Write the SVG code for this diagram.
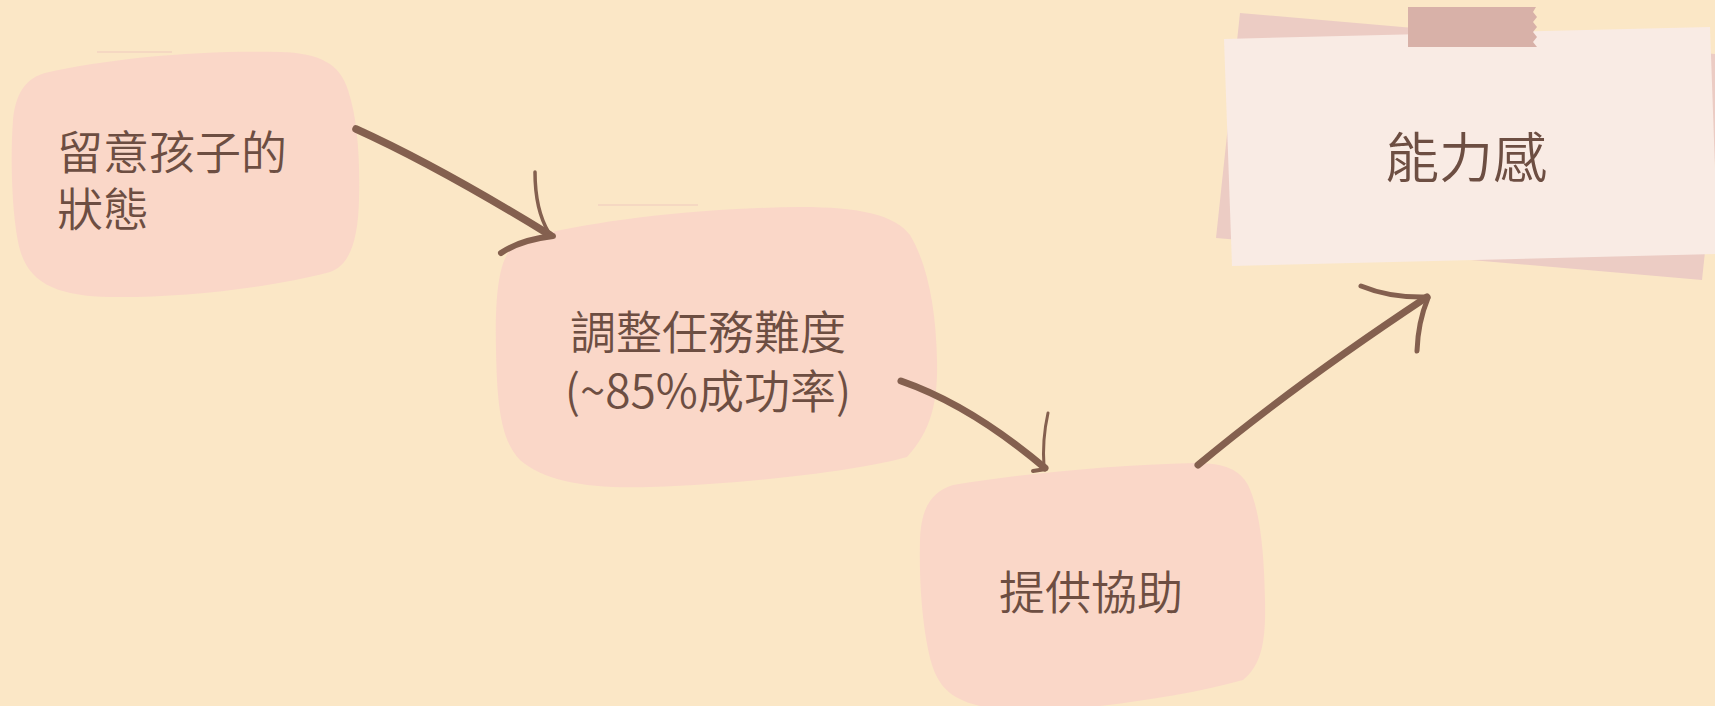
<svg xmlns="http://www.w3.org/2000/svg" width="1715" height="706" viewBox="0 0 1715 706">
  <style>
    .blob { fill: #fad7c8; }
    .label { font-family: "Noto Sans CJK TC", "Noto Sans", sans-serif; font-size: 46px; font-weight: 350; fill: #6d4e42; }
    .mid { text-anchor: middle; }
    .faint { stroke: #f3cfc0; stroke-width: 1.5; opacity: 0.8; fill: none; }
    .shaft { fill: none; stroke: #84604f; stroke-linecap: round; stroke-linejoin: round; }
  </style>
  <rect x="0" y="0" width="1715" height="706" fill="#fbe7c6"/>

  <g id="node-observe">
    <line class="faint" x1="97" y1="52" x2="172" y2="52"/>
    <path class="blob" d="M 45 73 C 110 58, 200 50, 280 52 C 320 53, 340 64, 348 90 C 358 120, 360 160, 359 200 C 358 240, 350 265, 330 272 C 270 288, 180 298, 110 297 C 60 296, 30 285, 20 250 C 12 220, 10 160, 13 120 C 16 90, 28 78, 45 73 Z"/>
    <text class="label" x="57" y="169">留意孩子的</text>
    <text class="label" x="57" y="226">狀態</text>
  </g>

  <g id="node-adjust">
    <line class="faint" x1="598" y1="205" x2="698" y2="205"/>
    <path class="blob" d="M 540 235 C 600 220, 700 208, 800 207 C 860 207, 895 215, 910 235 C 928 265, 936 310, 937 360 C 938 400, 932 430, 907 457 C 860 470, 760 483, 650 487 C 590 489, 545 482, 520 460 C 500 440, 497 400, 496 350 C 495 300, 498 265, 510 250 C 518 240, 528 237, 540 235 Z"/>
    <text class="label mid" x="708" y="349">調整任務難度</text>
    <text class="label mid" x="708" y="408">(~85%成功率)</text>
  </g>

  <g id="node-help">
    <path class="blob" d="M 953 485 C 1020 474, 1110 465, 1195 463 C 1225 463, 1240 470, 1248 485 C 1260 510, 1264 550, 1265 600 C 1266 640, 1262 665, 1243 680 C 1200 692, 1150 700, 1100 706 L 980 706 C 955 700, 940 690, 932 665 C 922 630, 919 580, 920 540 C 921 510, 930 492, 953 485 Z"/>
    <text class="label mid" x="1091" y="609">提供協助</text>
  </g>

  <g id="node-competence">
    <polygon points="1240,13 1726,55 1702,280 1216,238" fill="#ecccc4"/>
    <polygon points="1224,39 1710,27 1718,254 1232,266" fill="#f9ebe4"/>
    <polygon points="1408,7 1536,7 1533,12 1537,17 1533,22 1537,27 1533,32 1537,37 1533,42 1537,47 1408,47" fill="#d8b1a8"/>
    <text class="label mid" x="1466" y="178" style="font-size:54px">能力感</text>
  </g>

  <g id="connectors">
    <g id="edge-observe-adjust">
      <path class="shaft" stroke-width="7.5" d="M 356 129 C 420 158, 480 192, 550 235"/>
      <path class="shaft" stroke-width="3.5" d="M 535 172 Q 535 210 549 233"/>
      <path class="shaft" stroke-width="6" d="M 501 253 Q 520 240 553 236"/>
    </g>
    <g id="edge-adjust-help">
      <path class="shaft" stroke-width="7" d="M 901 381 C 950 398, 1000 430, 1045 468"/>
      <path class="shaft" stroke-width="3" d="M 1048 413 Q 1042 440 1044 467"/>
      <path class="shaft" stroke-width="4" d="M 1033 471 L 1046 469"/>
    </g>
    <g id="edge-help-competence">
      <path class="shaft" stroke-width="7" d="M 1198 465 C 1270 405, 1350 348, 1427 297"/>
      <path class="shaft" stroke-width="5" d="M 1361 286 Q 1390 298 1427 297"/>
      <path class="shaft" stroke-width="5" d="M 1428 298 Q 1418 322 1417 351"/>
    </g>
  </g>
</svg>
